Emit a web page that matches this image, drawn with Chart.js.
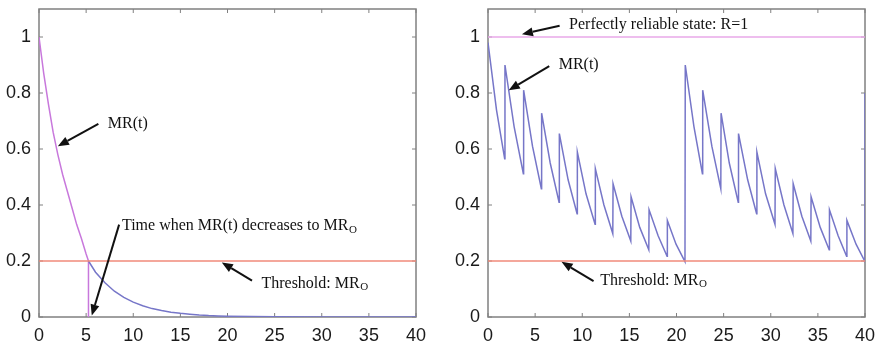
<!DOCTYPE html>
<html>
<head>
<meta charset="utf-8">
<script src="https://cdn.jsdelivr.net/npm/chart.js@4/dist/chart.umd.min.js"></script>
<style>
  html, body { margin: 0; padding: 0; background: #fff; }
  #wrap { position: relative; width: 877px; height: 346px; }
  .panel { position: absolute; top: 0; height: 346px; }
</style>
</head>
<body>
<div id="wrap">
  <div class="panel" style="left:0; width:440px;"><canvas id="left"></canvas></div>
  <div class="panel" style="left:440px; width:437px;"><canvas id="right"></canvas></div>
</div>
<script>
// ticks
const xTicks = [0, 5, 10, 15, 20, 25, 30, 35, 40];
const yTicks = [0, 0.2, 0.4, 0.6, 0.8, 1];
const yTickLabels = ['0', '0.2', '0.4', '0.6', '0.8', '1'];

// left panel: MR(t) without maintenance
const decayTime = [0, 0.5, 1, 1.5, 2, 2.5, 3, 3.5, 4, 4.5, 5, 5.25];
const decayMR   = [1, 0.87, 0.76, 0.66, 0.58, 0.51, 0.45, 0.39, 0.33, 0.28, 0.225, 0.2];
const tailTime  = [5.25, 6, 7, 8, 9, 10, 11, 12, 13, 14, 15, 16, 17, 18, 19, 20, 25, 30, 35, 40];
const tailMR    = [0.2, 0.16, 0.122, 0.092, 0.07, 0.053, 0.04, 0.03, 0.023, 0.017, 0.013, 0.01, 0.007, 0.005, 0.004, 0.003, 0.001, 0, 0, 0];
const crossTime = [5.25, 5.25];
const crossMR   = [0.2, 0];

// shared lines
const lineTime     = [0, 40];
const thresholdMR  = [0.2, 0.2];
const reliableMR   = [1, 1];

// right panel: MR(t) with maintenance
const maintTime = [
  0, 0.9, 1.77, 1.8, 2.77, 3.75, 3.78, 4.72, 5.66, 5.69, 6.6, 7.54, 7.57, 8.5, 9.45,
  9.48, 10.4, 11.36, 11.39, 12.3, 13.24, 13.27, 14.2, 15.15, 15.18, 16.1, 17.06,
  17.09, 18.05, 19.0, 19.03, 19.95, 20.9,
  20.93, 21.85, 22.75, 22.78, 23.75, 24.7, 24.73, 25.6, 26.55, 26.58, 27.55, 28.5,
  28.53, 29.45, 30.45, 30.48, 31.4, 32.35, 32.38, 33.3, 34.25, 34.28, 35.25, 36.2,
  36.23, 37.15, 38.05, 38.08, 39.05, 40, 40
];
const maintMR = [
  0.98, 0.74, 0.565, 0.9, 0.68, 0.512, 0.81, 0.61, 0.458, 0.728, 0.55, 0.41, 0.655, 0.49, 0.369,
  0.589, 0.44, 0.331, 0.53, 0.40, 0.298, 0.476, 0.36, 0.271, 0.429, 0.32, 0.24,
  0.383, 0.29, 0.217, 0.345, 0.26, 0.198,
  0.9, 0.68, 0.512, 0.81, 0.61, 0.458, 0.728, 0.55, 0.41, 0.655, 0.49, 0.369,
  0.589, 0.44, 0.331, 0.53, 0.40, 0.298, 0.476, 0.36, 0.271, 0.429, 0.32, 0.24,
  0.383, 0.29, 0.217, 0.345, 0.26, 0.198, 0.8
];

const MAGENTA = '#c878dc';
const BLUE = '#7676c8';
const ORANGE = '#f08a7a';
const PINK = '#e8a8e8';

function pts(xs, ys) {
  return xs.map((x, i) => ({ x: x, y: ys[i] }));
}

function line(xs, ys, color) {
  return {
    data: pts(xs, ys),
    showLine: true,
    borderColor: color,
    borderWidth: 1.5,
    pointRadius: 0,
    tension: 0
  };
}

// frame + inward ticks, matlab style (drawn under the lines)
const framePlugin = {
  id: 'frame',
  beforeDatasetsDraw(chart) {
    const { ctx, chartArea: a, scales } = chart;
    ctx.save();
    ctx.strokeStyle = '#808080';
    ctx.lineWidth = 1.5;
    ctx.strokeRect(a.left, a.top, a.right - a.left, a.bottom - a.top);
    ctx.lineWidth = 1;
    ctx.beginPath();
    xTicks.forEach(v => {
      const px = scales.x.getPixelForValue(v);
      ctx.moveTo(px, a.bottom); ctx.lineTo(px, a.bottom - 4);
      ctx.moveTo(px, a.top); ctx.lineTo(px, a.top + 4);
    });
    yTicks.forEach(v => {
      const py = scales.y.getPixelForValue(v);
      ctx.moveTo(a.left, py); ctx.lineTo(a.left + 4, py);
      ctx.moveTo(a.right, py); ctx.lineTo(a.right - 4, py);
    });
    ctx.stroke();
    ctx.restore();
  }
};

// text labels and arrows, placed in data coordinates
const notesPlugin = {
  id: 'notes',
  afterDraw(chart, args, opts) {
    const { ctx, scales } = chart;
    const X = v => scales.x.getPixelForValue(v);
    const Y = v => scales.y.getPixelForValue(v);
    ctx.save();
    ctx.fillStyle = '#111';
    ctx.strokeStyle = '#111';
    ctx.textBaseline = 'middle';
    ctx.textAlign = 'left';
    (opts.labels || []).forEach(l => {
      ctx.font = '16px "Liberation Serif", "Times New Roman", serif';
      const px = X(l.x), py = Y(l.y);
      ctx.fillText(l.text, px, py);
      if (l.sub) {
        const w = ctx.measureText(l.text).width;
        ctx.font = '11px "Liberation Serif", "Times New Roman", serif';
        ctx.fillText(l.sub, px + w + 0.5, py + 4);
      }
    });
    (opts.arrows || []).forEach(ar => {
      const x1 = X(ar.from[0]), y1 = Y(ar.from[1]);
      const x2 = X(ar.to[0]), y2 = Y(ar.to[1]);
      const ang = Math.atan2(y2 - y1, x2 - x1);
      const len = 11, half = 4.5;
      const bx = x2 - len * Math.cos(ang), by = y2 - len * Math.sin(ang);
      ctx.lineWidth = 2;
      ctx.beginPath();
      ctx.moveTo(x1, y1);
      ctx.lineTo(bx, by);
      ctx.stroke();
      ctx.beginPath();
      ctx.moveTo(x2, y2);
      ctx.lineTo(bx + half * Math.sin(ang), by - half * Math.cos(ang));
      ctx.lineTo(bx - half * Math.sin(ang), by + half * Math.cos(ang));
      ctx.closePath();
      ctx.fill();
    });
    ctx.restore();
  }
};

function makeOptions(yWidth, padRight, notes) {
  const tickFont = { family: '"Liberation Sans", Arial, sans-serif', size: 18 };
  return {
    responsive: true,
    maintainAspectRatio: false,
    animation: false,
    layout: { padding: { top: 9, right: padRight, left: 0, bottom: 0 } },
    plugins: {
      legend: { display: false },
      tooltip: { enabled: false },
      notes: notes
    },
    scales: {
      x: {
        type: 'linear',
        min: 0,
        max: 40,
        grid: { display: false, drawTicks: false },
        border: { display: false },
        afterBuildTicks: s => { s.ticks = xTicks.map(v => ({ value: v })); },
        afterFit: s => { s.height = 29; s.paddingLeft = 0; s.paddingRight = 0; },
        ticks: { font: tickFont, color: '#1a1a1a', padding: 8, maxRotation: 0 }
      },
      y: {
        type: 'linear',
        min: 0,
        max: 1.1,
        grid: { display: false, drawTicks: false },
        border: { display: false },
        afterBuildTicks: s => { s.ticks = yTicks.map(v => ({ value: v })); },
        afterFit: s => { s.width = yWidth; s.paddingTop = 0; s.paddingBottom = 0; },
        ticks: {
          font: tickFont,
          color: '#1a1a1a',
          padding: 8,
          callback: (v) => yTickLabels[yTicks.indexOf(v)]
        }
      }
    }
  };
}

new Chart(document.getElementById('left'), {
  type: 'scatter',
  data: {
    datasets: [
      line(lineTime, thresholdMR, ORANGE),
      line(tailTime, tailMR, BLUE),
      line(decayTime, decayMR, MAGENTA),
      line(crossTime, crossMR, MAGENTA)
    ]
  },
  options: makeOptions(39, 24, {
    labels: [
      { text: 'MR(t)', x: 7.3, y: 0.69 },
      { text: 'Time when MR(t) decreases to MR', sub: 'O', x: 8.8, y: 0.325 },
      { text: 'Threshold: MR', sub: 'O', x: 23.6, y: 0.12 }
    ],
    arrows: [
      { from: [6.3, 0.69], to: [2.0, 0.61] },
      { from: [8.5, 0.33], to: [5.6, 0.005] },
      { from: [22.6, 0.13], to: [19.4, 0.195] }
    ]
  }),
  plugins: [framePlugin, notesPlugin]
});

new Chart(document.getElementById('right'), {
  type: 'scatter',
  data: {
    datasets: [
      line(lineTime, reliableMR, PINK),
      line(lineTime, thresholdMR, ORANGE),
      line(maintTime, maintMR, BLUE)
    ]
  },
  options: makeOptions(48, 12, {
    labels: [
      { text: 'Perfectly reliable state: R=1', x: 8.6, y: 1.043 },
      { text: 'MR(t)', x: 7.5, y: 0.9 },
      { text: 'Threshold: MR', sub: 'O', x: 11.9, y: 0.13 }
    ],
    arrows: [
      { from: [7.6, 1.04], to: [3.6, 1.01] },
      { from: [6.5, 0.896], to: [2.2, 0.81] },
      { from: [11.2, 0.128], to: [7.8, 0.197] }
    ]
  }),
  plugins: [framePlugin, notesPlugin]
});
</script>
</body>
</html>
